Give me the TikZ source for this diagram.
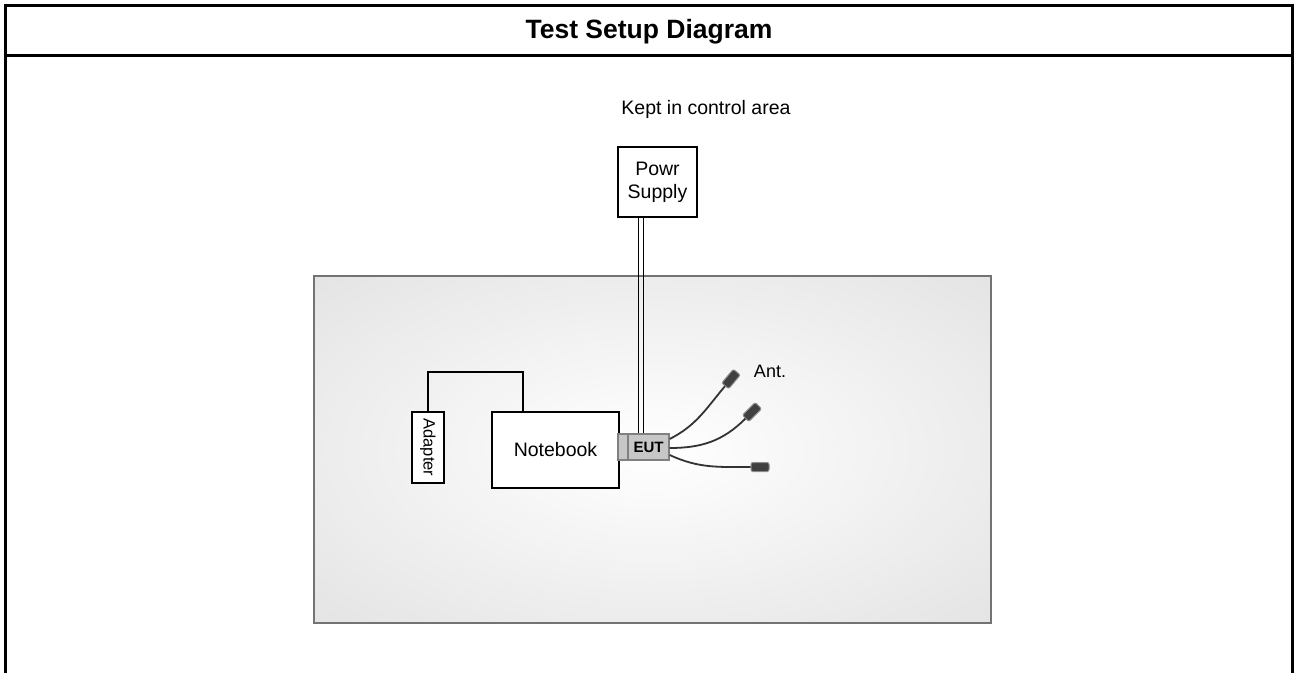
\documentclass[tikz,border=0pt]{standalone}
\usepackage{fontspec}
\setmainfont{Liberation Sans}
\usepackage{graphicx}
\pgfdeclareradialshading{benchglow}{\pgfpoint{0bp}{0bp}}{color(0bp)=(white); color(50bp)=(black!15); color(72bp)=(black!21)}
\tikzset{
frameline/.style={line width=3pt},
unitbox/.style={draw=black, fill=white, line width=1.8pt, inner sep=0pt, font=\fontsize{19.5}{23}\selectfont},
wire/.style={line width=1.8pt},
cable/.style={line width=1.8pt, draw=black!80},
antplug/.style={draw=black!45, fill=black!75, rounded corners=2pt, line width=1pt, minimum width=18pt, minimum height=9pt, inner sep=0pt},
eutbox/.style={draw=black!50, fill=black!22, line width=1.4pt, inner sep=0pt, minimum height=26pt}}

\begin{document}
\begin{tikzpicture}[x=1pt,y=1pt]
            \useasboundingbox (0,0) rectangle (1294,673);

                \draw[frameline] (5.5,0) -- (5.5,667) -- (1292,667) -- (1292,0);
                \draw[frameline] (5.5,617.5) -- (1292,617.5);
                \node[anchor=base, font=\bfseries\fontsize{26.5}{30}\selectfont] (T) at (649,634) {Test Setup Diagram};

                \node[shade, shading=benchglow, draw=black!55, line width=2pt, minimum width=677pt, minimum height=347pt, inner sep=0pt] (TB) at (652.5,223.5) {};
                \node[anchor=base, font=\fontsize{19.5}{23}\selectfont] (CA) at (706,558) {Kept in control area};

                \node[unitbox, minimum width=79pt, minimum height=70pt, align=center] (PSU) at (657.5,491) {Powr\\Supply};
                \node[unitbox, minimum width=127pt, minimum height=76pt] (NB) at (555.5,223) {Notebook};
                \node[unitbox, minimum width=32pt, minimum height=71pt, font=\fontsize{16.5}{20}\selectfont] (AD) at (428,225.5) {\rotatebox{-90}{Adapter}};
                \node[eutbox, minimum width=10pt] (EB) at (623,226) {};
                \node[eutbox, minimum width=41pt, font=\bfseries\fontsize{15}{18}\selectfont] (EUT) at (648.5,226) {EUT};

                \draw[wire] ([xshift=-19pt]PSU.south) -- ([xshift=-10pt]EUT.north);
                \draw[wire] ([xshift=-14pt]PSU.south) -- ([xshift=-5pt]EUT.north);
                \draw[wire] (AD.north) -- ++(0,39) -| ([xshift=-32.5pt]NB.north);

                \node[antplug, rotate=50] (A1) at (731,294) {};
                \node[antplug, rotate=45] (A2) at (752,261) {};
                \node[antplug] (A3) at (760,206) {};
                \node[anchor=base, font=\fontsize{18}{22}\selectfont] (ANT) at (770,295) {Ant.};

                \draw[cable] ([yshift=8pt]EUT.east) to[out=27, in=230] (A1.west);
                \draw[cable] ([yshift=-1pt]EUT.east) to[out=0, in=225] (A2.west);
                \draw[cable] ([yshift=-8pt]EUT.east) to[out=-25, in=180] (A3.west);

            \end{tikzpicture}
\end{document}
